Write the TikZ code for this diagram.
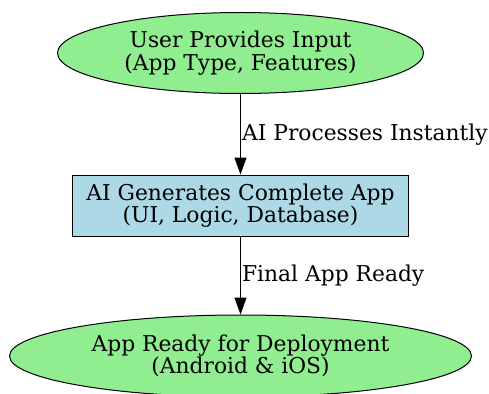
\documentclass[tikz,border=0pt]{standalone}
\usepackage{fontspec}
\setmainfont{DejaVu Serif}
\usetikzlibrary{shapes.geometric,arrows.meta}
\definecolor{nodegreen}{HTML}{90EE90}
\definecolor{nodeblue}{HTML}{ADD8E6}
\begin{document}
\begin{tikzpicture}[x=1pt,y=-1pt,
  every node/.style={font=\fontsize{21.8}{22.5}\selectfont, align=center, text=black},
  oval/.style={ellipse, draw=black, line width=1pt, fill=nodegreen, inner sep=0pt},
  stepbox/.style={rectangle, draw=black, line width=1pt, fill=nodeblue, inner sep=0pt},
  flow/.style={draw=black, line width=1.2pt, -{Triangle[length=17pt,width=12pt]}},
  edgelabel/.style={anchor=west, inner sep=1pt}]
\useasboundingbox (0,0) rectangle (489,393);
\node[oval, minimum width=366pt, minimum height=81pt] (input) at (240.5,53)
  {User Provides Input\\(App Type, Features)};
\node[stepbox, minimum width=336pt, minimum height=61pt] (gen) at (240.5,205.5)
  {AI Generates Complete App\\(UI, Logic, Database)};
\node[oval, minimum width=462pt, minimum height=82pt] (deploy) at (240.5,356)
  {App Ready for Deployment\\(Android \& iOS)};
\draw[flow] (input) -- (gen) node[midway, edgelabel] {AI Processes Instantly};
\draw[flow] (gen) -- (deploy) node[midway, edgelabel] {Final App Ready};
\end{tikzpicture}
\end{document}
